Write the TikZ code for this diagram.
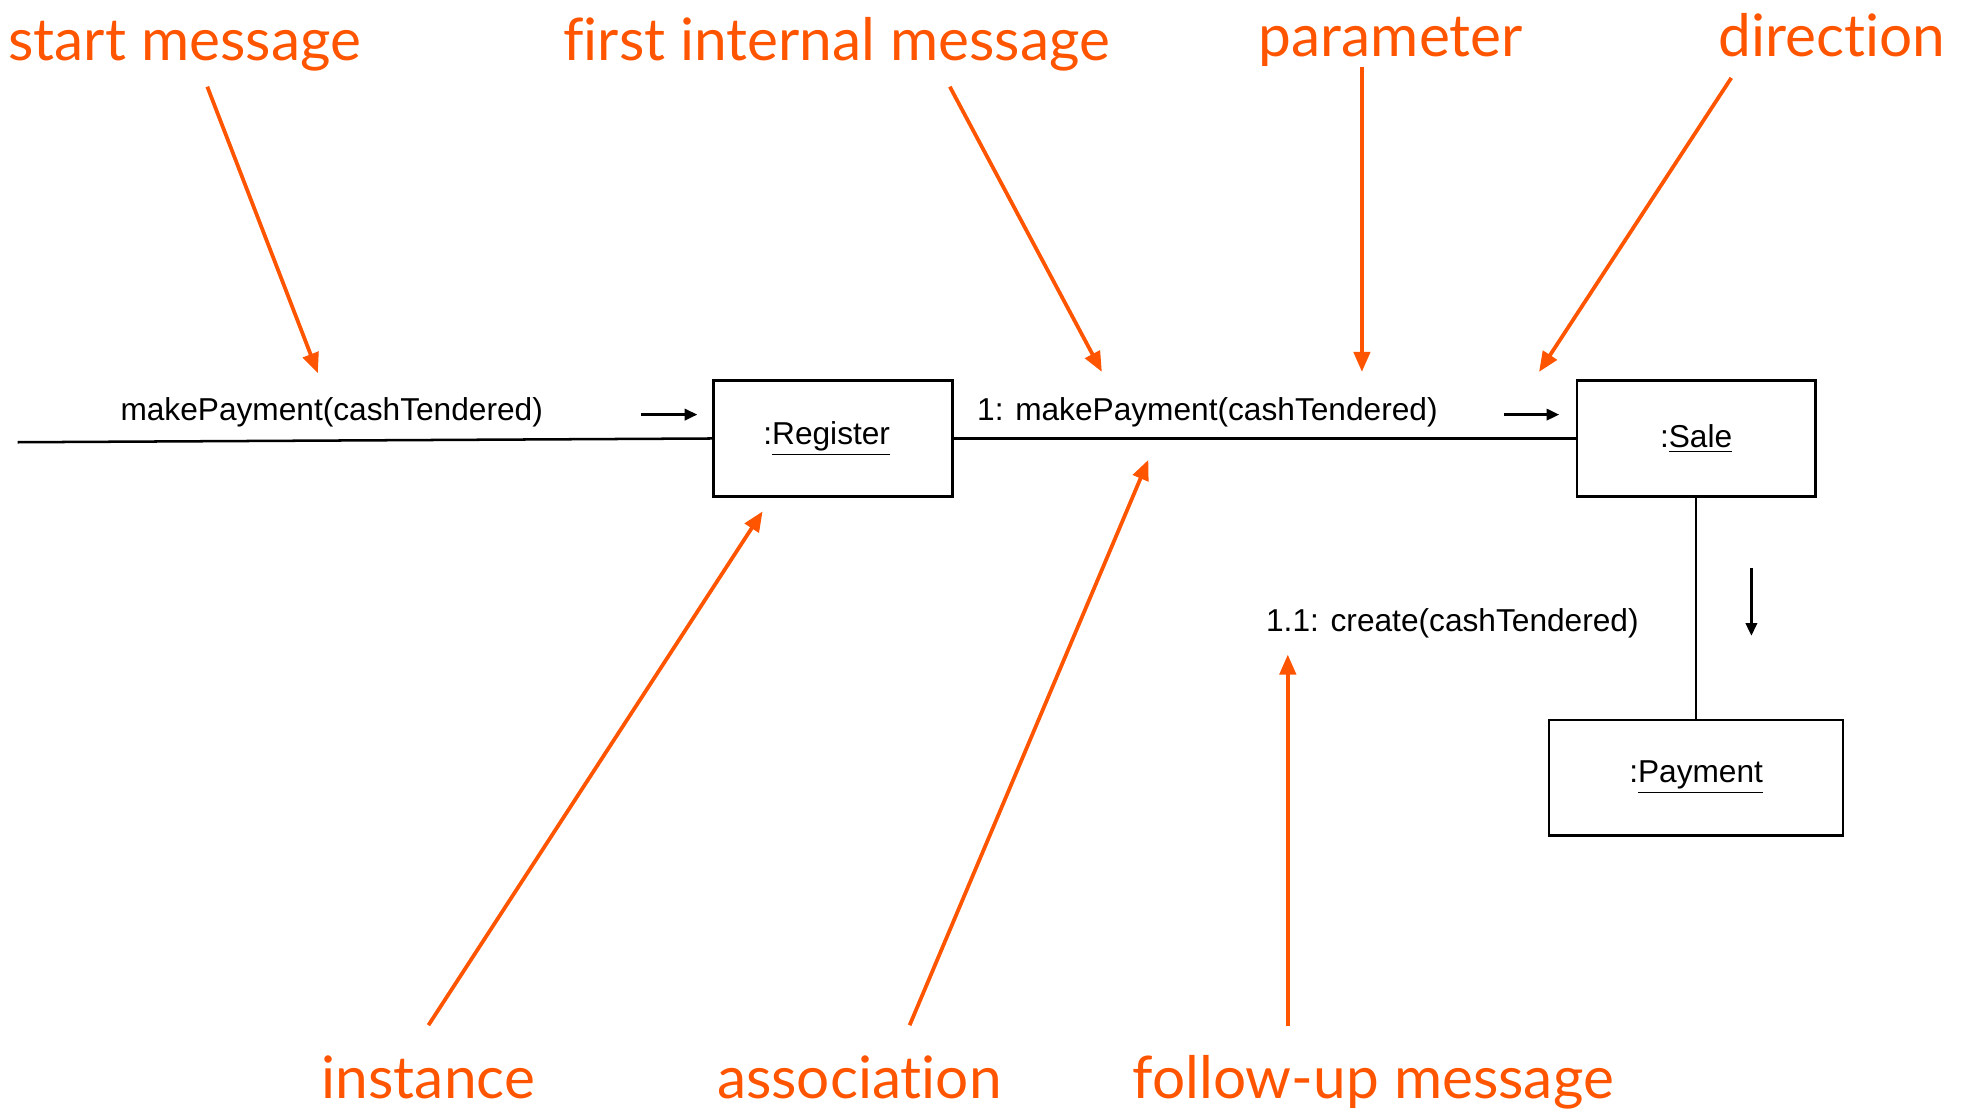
\documentclass[tikz,border=0pt]{standalone}
\usepackage{fontspec}
\setmainfont{Liberation Sans}
\newfontfamily\labelfont[RawFeature={-liga;-dlig;-calt}]{Lato}
\usetikzlibrary{arrows.meta}
\definecolor{accent}{RGB}{255,85,0}
\begin{document}
\begin{tikzpicture}[x=0.5pt,y=-0.5pt,
  obj/.style={draw,line width=1pt,minimum width=95pt,minimum height=46pt,inner sep=0pt,font=\fontsize{12.6}{14}\selectfont},
  msg/.style={font=\fontsize{12.6}{14}\selectfont,inner sep=0pt,anchor=base},
  note/.style={text=accent,font=\labelfont\fontsize{23.3}{27}\selectfont,inner sep=0pt,anchor=base},
  callout/.style={draw=accent,line width=1.5pt,-{Triangle[length=8pt,width=6.5pt]}},
  dirarrow/.style={line width=1pt,-{Triangle[length=5pt,width=4.5pt]}},
  link/.style={line width=1pt}]
\useasboundingbox (0,0) rectangle (1568,883);
% objects
\node[obj] (reg) at (663,349) {\hspace*{-5pt}:\underline{Register}};
\node[obj] (sale) at (1350,349) {:\underline{Sale}};
\node[obj,minimum width=117pt] (pay) at (1350,619) {:\underline{Payment}};
% links
\coordinate (start) at (14,352);
\draw[link] (start) -- (reg.west);
\draw[link] (reg.east) -- (sale.west);
\draw[link] (sale.south) -- (pay.north);
% messages
\node[msg] (m0) at (264,335) {makePayment(cashTendered)};
\node[msg] (m1) at (961,335) {1: makePayment(cashTendered)};
\node[msg] (m2) at (1156,503) {1.1: create(cashTendered)};
% direction arrows
\coordinate (d0a) at (510,330); \coordinate (d0b) at (555,330);
\coordinate (d1a) at (1197,330); \coordinate (d1b) at (1241,330);
\coordinate (d2a) at (1394,452); \coordinate (d2b) at (1394,506);
\draw[dirarrow] (d0a) -- (d0b);
\draw[dirarrow] (d1a) -- (d1b);
\draw[dirarrow] (d2a) -- (d2b);
% annotations
\node[note] (nstart) at (147,48) {start message};
\node[note] (nfirst) at (666,48) {first internal message};
\node[note] (nparam) at (1107,45) {parameter};
\node[note] (ndir) at (1458,45) {direction};
\node[note] (ninst) at (341,874) {instance};
\node[note] (nassoc) at (684,874) {association};
\node[note] (nfollow) at (1093,874) {follow-up message};
% callout targets
\coordinate (tstart) at (253,297);
\coordinate (tfirst) at (877,296);
\coordinate (tparam) at (1084,296);
\coordinate (tdir) at (1225,296);
\coordinate (tinst) at (607,407);
\coordinate (tassoc) at (914,366);
\coordinate (tfollow) at (1025,521);
\draw[callout] (165,69) -- (tstart);
\draw[callout] (756,69) -- (tfirst);
\draw[callout] (1084,53) -- (tparam);
\draw[callout] (1378,62) -- (tdir);
\draw[callout] (341,816) -- (tinst);
\draw[callout] (724,816) -- (tassoc);
\draw[callout] (1025,817) -- (tfollow);
\end{tikzpicture}
\end{document}
